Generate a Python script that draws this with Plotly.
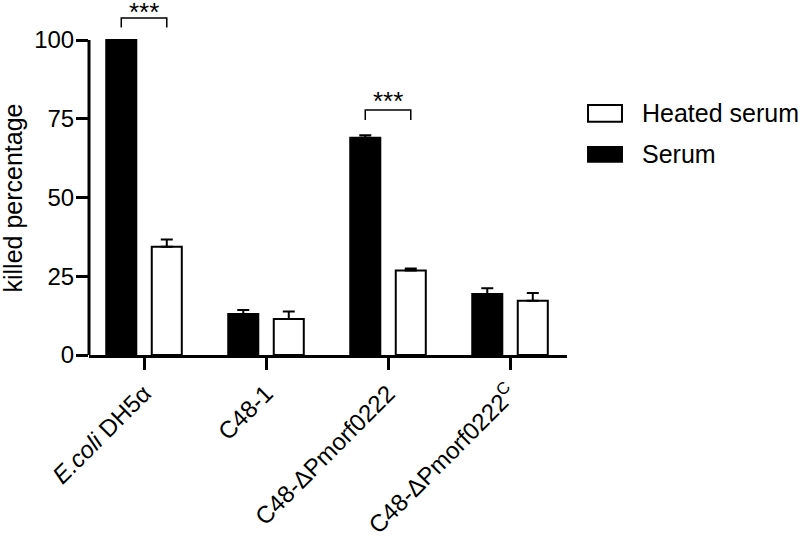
import plotly.graph_objects as go

categories = ["<i>E.coli</i> DH5α", "C48-1", "C48-ΔPmorf0222", "C48-ΔPmorf0222<sup>C</sup>"]
serum = [100.0, 13.0, 69.0, 19.4]
serum_err = [0.0, 1.3, 0.8, 1.8]
heated = [34.4, 11.4, 26.8, 17.2]
heated_err = [2.3, 2.4, 0.7, 2.5]
y_ticks = [0, 25, 50, 75, 100]
sig_groups = [0, 2]
sig_bracket_low = [104.0, 74.6]
sig_bracket_high = [107.0, 77.8]
sig_labels = ["***", "***"]
legend_names = ["Heated serum", "Serum"]
y_title = "killed percentage"

FONT = "Liberation Sans, Arial, sans-serif"
BARGAP = 0.254
BARGROUPGAP = 0.34
STAR_SHIFT = [-11, -8]
x = list(range(len(categories)))

fig = go.Figure()
fig.add_trace(go.Bar(
    x=x, y=serum, name="Serum",
    marker=dict(color="black", line=dict(color="black", width=2)),
    error_y=dict(type="data", symmetric=False, array=serum_err,
                 arrayminus=[0] * len(serum), color="black", thickness=2, width=6),
))
fig.add_trace(go.Bar(
    x=x, y=heated, name="Heated serum",
    marker=dict(color="white", line=dict(color="black", width=2)),
    error_y=dict(type="data", symmetric=False, array=heated_err,
                 arrayminus=[0] * len(heated), color="black", thickness=2, width=6),
))

# significance brackets (bar centres computed from group geometry)
half = (1 - BARGAP) / 4
for g, lo, hi, lab, sh in zip(sig_groups, sig_bracket_low, sig_bracket_high, sig_labels, STAR_SHIFT):
    fig.add_trace(go.Scatter(
        x=[g - half, g - half, g + half, g + half], y=[lo, hi, hi, lo],
        mode="lines", line=dict(color="black", width=1.5),
        showlegend=False, hoverinfo="skip",
    ))
    fig.add_annotation(x=g, y=hi, text=lab, showarrow=False, yanchor="bottom",
                       yshift=sh, font=dict(size=26, color="black", family=FONT))

# y axis line drawn only from 0 to the top tick
fig.add_shape(type="line", xref="paper", yref="y", x0=0, x1=0,
              y0=y_ticks[0], y1=y_ticks[-1], line=dict(color="black", width=3))

# y axis title centred on the 0-100 span
fig.add_annotation(xref="paper", yref="y", x=-0.159, y=(y_ticks[0] + y_ticks[-1]) / 2,
                   text=y_title, textangle=-90, showarrow=False,
                   xanchor="center", yanchor="middle",
                   font=dict(size=25, color="black", family=FONT))

# manual legend (swatches + labels)
legend_fill = ["white", "black"]
legend_y0 = [0.657, 0.5445]
legend_y1 = [0.704, 0.5856]
for name, fill, y0, y1 in zip(legend_names, legend_fill, legend_y0, legend_y1):
    fig.add_shape(type="rect", xref="paper", yref="paper",
                  x0=1.044, x1=1.115, y0=y0, y1=y1,
                  fillcolor=fill, line=dict(color="black", width=2))
    fig.add_annotation(xref="paper", yref="paper", x=1.152, y=(y0 + y1) / 2, text=name,
                       showarrow=False, xanchor="left", yanchor="middle",
                       font=dict(size=25, color="black", family=FONT))

fig.update_layout(
    barmode="group", bargap=BARGAP, bargroupgap=BARGROUPGAP,
    width=800, height=542,
    margin=dict(l=89, r=233, t=0, b=187),
    plot_bgcolor="white", paper_bgcolor="white",
    showlegend=False,
    font=dict(family=FONT, color="black", size=24),
)
fig.update_xaxes(
    range=[-0.451, 3.467], tickvals=x, ticktext=categories, tickangle=-45,
    showline=True, linecolor="black", linewidth=3,
    ticks="outside", ticklen=12, tickwidth=3, tickcolor="black",
    showgrid=False, zeroline=False, automargin=False,
    tickfont=dict(size=24, color="black", family=FONT),
)
fig.update_yaxes(
    range=[0, 112.7], tickvals=y_ticks, ticktext=[str(v) for v in y_ticks],
    showline=False,
    ticks="outside", ticklen=12, tickwidth=3, tickcolor="black",
    ticklabelstandoff=-3,
    showgrid=False, zeroline=False, automargin=False,
    tickfont=dict(size=24, color="black", family=FONT),
)

fig.write_html("out.html", config={"displayModeBar": False},
               post_script="document.body.style.margin='0px';document.body.style.overflow='hidden';")
